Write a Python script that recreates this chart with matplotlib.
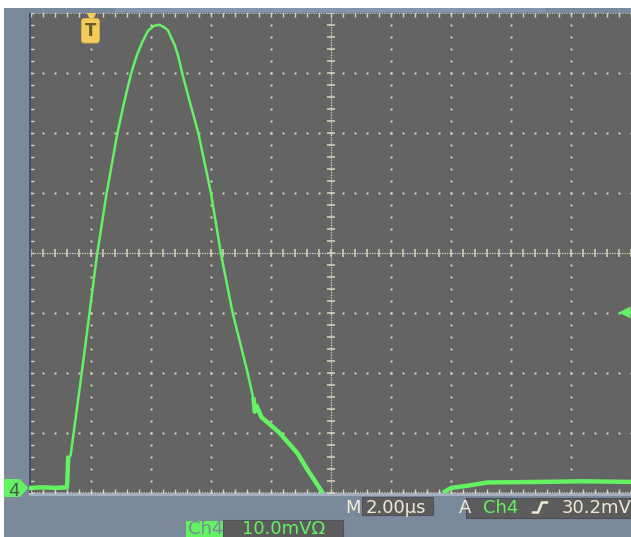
import numpy as np
import matplotlib
matplotlib.use("Agg")
import matplotlib.pyplot as plt
from matplotlib.patches import Rectangle, Polygon

# scope settings
time_per_div = "2.00µs"
volts_per_div = "10.0mVΩ"
trig_level_mv = 30.2
trig_pos_div = 1.0

# trace, in divisions (x: time div from left edge, y: div above ground)
trace_t = [0.00, 0.20, 0.40, 0.60, 0.61, 0.62, 0.66, 0.83, 1.10, 1.26, 1.44,
           1.55, 1.67, 1.76, 1.85, 1.95, 2.05, 2.13, 2.20, 2.28, 2.40, 2.46,
           2.52, 2.65, 2.79, 3.00, 3.17, 3.36, 3.61, 3.71, 3.73, 3.76, 3.84,
           4.14, 4.44, 4.61, 4.86, 5.00, 6.80, 6.90, 7.00, 7.30, 7.60, 8.50,
           9.20, 10.0]
trace_v = [0.08, 0.09, 0.08, 0.09, 0.30, 0.58, 0.62, 1.88, 3.96, 4.99, 5.99,
           6.50, 6.99, 7.28, 7.50, 7.70, 7.78, 7.80, 7.77, 7.71, 7.45, 7.25,
           6.99, 6.50, 5.99, 4.99, 3.96, 3.00, 2.00, 1.55, 1.35, 1.45, 1.26,
           1.00, 0.66, 0.38, 0.00, -0.30, -0.30, 0.02, 0.08, 0.12, 0.17, 0.18,
           0.19, 0.18]
# stretches where the trace is visibly noisy (drawn thicker)
noisy_spans = [(0.0, 0.62), (3.70, 4.90), (6.85, 10.0)]

W, H = 631, 537
fig = plt.figure(figsize=(W / 100, H / 100), dpi=100, facecolor="white")

slate = "#7a8a9a"
screen = "#646464"
grid_c = "#d6d6c0"
green = "#62f262"
cream = "#efebd2"
boxc = "#5c5c5c"

# background layer in pixel coords
bg = fig.add_axes([0, 0, 1, 1], zorder=0)
bg.set_xlim(0, W)
bg.set_ylim(H, 0)
bg.axis("off")
bg.add_patch(Rectangle((4, 8), W - 4, H - 8, fc=slate, ec="none"))
bg.add_patch(Rectangle((115, 8), 430, 4, fc="#8794ad", ec="none"))
bg.add_patch(Rectangle((29, 493), W - 29, 2.5, fc="#a3afbd", ec="none"))

# screen area: x0 at px 31, 60 px/div; y 0..8 div from px 492.7 to 12.7
x0 = 31
left_px, top_px, bot_px = 29, 12.7, 492.7
ax = fig.add_axes([left_px / W, 1 - bot_px / H, (W - left_px) / W, (bot_px - top_px) / H], zorder=1)
ax.set_facecolor(screen)
ax.set_xlim((left_px - x0) / 60, (W - x0) / 60)
ax.set_ylim(0, 8)
for s in ax.spines.values():
    s.set_visible(False)
ax.set_xticks([])
ax.set_yticks([])

# dotted graticule
fine_y = np.arange(0, 8.01, 0.2)
fine_x = np.arange(0, 10.01, 0.2)
for i in range(1, 10):
    if i == 5:
        continue
    ax.plot(np.full_like(fine_y, i), fine_y, ls="none", marker="s", ms=1.6, mec="none", mfc=grid_c)
for j in range(1, 8):
    if j == 4:
        continue
    ax.plot(fine_x, np.full_like(fine_x, j), ls="none", marker="s", ms=1.6, mec="none", mfc=grid_c)

# centre cross with minor ticks
ax.axhline(4, color=grid_c, lw=0.9, ls=(0, (1, 1)))
ax.axvline(5, color=grid_c, lw=0.9, ls=(0, (1, 1)))
ax.plot(fine_x, np.full_like(fine_x, 4), ls="none", marker="|", ms=6, mew=1.1, color=grid_c)
ax.plot(np.full_like(fine_y, 5), fine_y, ls="none", marker="_", ms=6, mew=1.1, color=grid_c)

# edge ticks
ax.plot(fine_x, np.full_like(fine_x, 7.985), ls="none", marker="|", ms=4, mew=1, color=grid_c)
ax.plot(fine_x, np.full_like(fine_x, 0.015), ls="none", marker="|", ms=4, mew=1, color=grid_c)
ax.plot(np.full_like(fine_y, 0.0), fine_y, ls="none", marker="_", ms=4, mew=1, color=grid_c)
ax.axhline(7.99, color=grid_c, lw=0.7, ls=(0, (1, 1.5)))
ax.axhline(0.01, color=grid_c, lw=0.7, ls=(0, (1, 1.5)))
ax.axvline((left_px - x0) / 60 + 0.015, color="#4b4d6e", lw=1.6)

# waveform
t = np.array(trace_t)
v = np.array(trace_v)
ax.plot(t, v, color=green, lw=1.8, solid_joinstyle="round", solid_capstyle="round", zorder=5)
for a, b in noisy_spans:
    m = (t >= a) & (t <= b)
    ax.plot(t[m], v[m], color=green, lw=3.2, solid_joinstyle="round", zorder=5)

# trigger position marker
ax.plot(trig_pos_div, 7.95, marker="v", ms=8, color="#f2cd5c", mec="none", zorder=6)
ax.text(trig_pos_div - 0.01, 7.70, "T", ha="center", va="center", fontsize=12, fontweight="bold",
        color="#6a5a2c", zorder=6,
        bbox=dict(boxstyle="round,pad=0.2", fc="#f2cd5c", ec="#d9b048", lw=0.6))

# trigger level arrow (right edge)
trig_div = trig_level_mv / 10.0
ax.plot(9.88, trig_div, marker="<", ms=8, color=green, mec="none", zorder=6, clip_on=False)
ax.plot([9.88, 10.0], [trig_div, trig_div], color=green, lw=1.5, zorder=6)

# overlay layer: readouts
ov = fig.add_axes([0, 0, 1, 1], zorder=2)
ov.set_xlim(0, W)
ov.set_ylim(H, 0)
ov.axis("off")
ov.patch.set_alpha(0)

# ground marker "4"
ov.add_patch(Polygon([(4, 479), (20, 479), (28, 488), (20, 497), (4, 497)], closed=True,
                     fc=green, ec="none"))
ov.text(14, 495.5, "4", ha="center", va="baseline", fontsize=13, color="#4e5a52")

fs = 13
ov.text(345, 513, "M", ha="left", va="baseline", fontsize=fs, color=cream)
ov.add_patch(Rectangle((362, 497), 71, 18, fc=boxc, ec="#50505c", lw=0.8))
ov.text(366, 513, time_per_div, ha="left", va="baseline", fontsize=fs, color=cream)

ov.text(459, 513, "A", ha="left", va="baseline", fontsize=fs, color=cream)
ov.add_patch(Rectangle((466, 498), 170, 20, fc=boxc, ec="#4b4b5a", lw=0.8))
ov.text(483, 513, "Ch4", ha="left", va="baseline", fontsize=fs, color=green)
# rising-edge slope icon
ov.plot([533, 538, 542, 547], [512.5, 512.5, 502.5, 502.5], color=cream, lw=1.8,
        solid_joinstyle="miter")
ov.text(562, 513, f"{trig_level_mv:.1f}mV", ha="left", va="baseline", fontsize=fs, color=cream)

ov.add_patch(Rectangle((186, 521), 37, 20, fc=green, ec="none"))
ov.text(188, 534, "Ch4", ha="left", va="baseline", fontsize=fs, color=slate)
ov.add_patch(Rectangle((223, 520), 120, 20, fc=boxc, ec="#50505c", lw=0.8))
ov.text(242, 534, volts_per_div, ha="left", va="baseline", fontsize=fs, color=green)

fig.savefig("out.png", dpi=100, facecolor=fig.get_facecolor())
